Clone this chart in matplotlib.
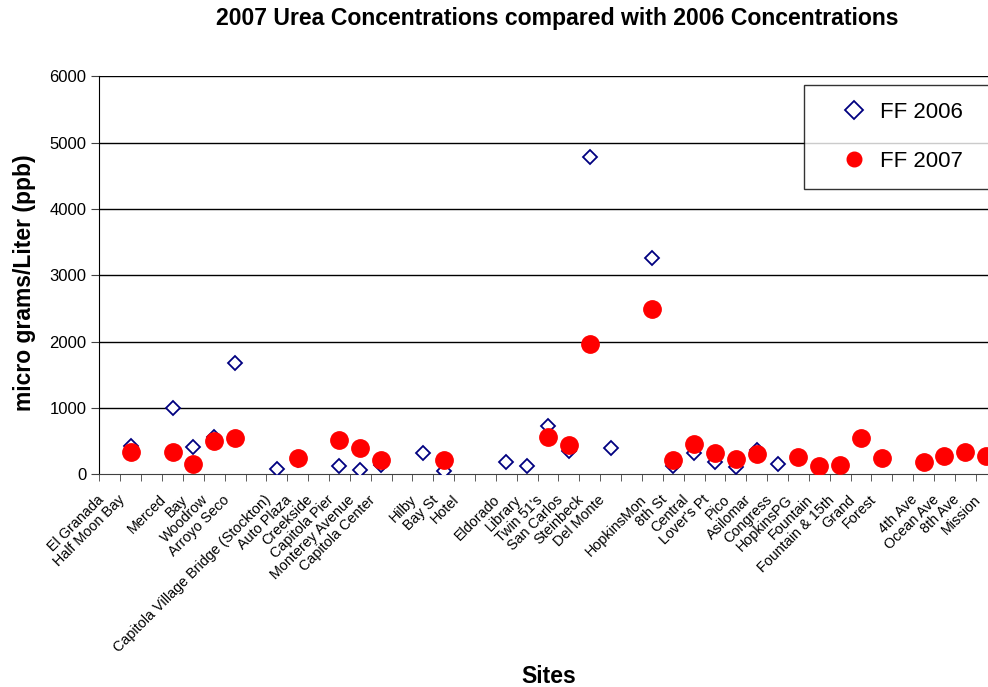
import numpy as np
import matplotlib
matplotlib.use('Agg')
import matplotlib.pyplot as plt
import matplotlib.transforms as mtransforms
from matplotlib.lines import Line2D

plt.rcParams['font.family'] = ['Liberation Sans', 'DejaVu Sans']

nan = np.nan

# site names along the x axis, blank strings are the empty slots in the sheet
sites = ['El Granada', 'Half Moon Bay', '', 'Merced', 'Bay', 'Woodrow', 'Arroyo Seco', '',
         'Capitola Village Bridge (Stockton)', 'Auto Plaza', 'Creekside', 'Capitola Pier',
         'Monterey Avenue', 'Capitola Center', '', 'Hilby', 'Bay St', 'Hotel', '',
         'Eldorado', 'Library', "Twin 51's", 'San Carlos', 'Steinbeck', 'Del Monte', '',
         'HopkinsMon', '8th St', 'Central', "Lover's Pt", 'Pico', 'Asilomar', 'Congress',
         'HopkinsPG', 'Fountain', 'Fountain & 15th', 'Grand', 'Forest', '',
         '4th Ave', 'Ocean Ave', '8th Ave', 'Mission']

ff_2006 = [nan, 430, nan, 1000, 417, 560, 1680, nan,
           80, 220, nan, 125, 65, 140, nan, 326, 55, nan, nan,
           190, 125, 730, 355, 4780, 397, nan,
           3260, 125, 326, 190, 115, 366, 150,
           nan, nan, nan, nan, nan, nan, nan, nan, nan, nan]

ff_2007 = [nan, 341, nan, 341, 155, 507, 543, nan,
           nan, 246, nan, 513, 397, 211, nan, nan, 211, nan, nan,
           nan, nan, 558, 442, 1970, nan, nan,
           2490, 211, 457, 315, 235, 306, nan,
           266, 130, 136, 541, 241, nan, 190, 276, 341, 276]

yticks = [0, 1000, 2000, 3000, 4000, 5000, 6000]

fig = plt.figure(figsize=(9.88, 6.87), dpi=100)
# the original chart runs a little past the right edge of the image
ax = fig.add_axes([0.1007, 0.3096, 0.908, 0.5793])

x = np.arange(len(sites))
ax.plot(x, ff_2006, linestyle='none', marker='D', markersize=7.5,
        markerfacecolor='white', markeredgecolor='#000080', markeredgewidth=1.3,
        zorder=3)
ax.plot(x, ff_2007, linestyle='none', marker='o', markersize=12.5,
        markerfacecolor='#ff0000', markeredgecolor='#ff0000', zorder=4)

ax.set_xlim(-0.5, len(sites) - 0.5)
ax.set_ylim(0, 6000)
ax.set_yticks(yticks)
ax.set_yticklabels([str(v) for v in yticks], fontsize=12)
for v in yticks[1:]:
    ax.axhline(v, color='black', linewidth=1, zorder=1)

# labels sit at the category centres, tick marks at the boundaries
ax.set_xticks(x)
ax.set_xticklabels(sites, rotation=45, ha='right', va='top',
                   rotation_mode='anchor', fontsize=10.4)
ax.tick_params(axis='x', which='major', length=0, pad=6)
# excel puts the rotated labels a bit further down and left than matplotlib does
shift = mtransforms.ScaledTranslation(-13 / 100, -10 / 100, fig.dpi_scale_trans)
for lbl in ax.get_xticklabels():
    lbl.set_transform(lbl.get_transform() + shift)
ax.set_xticks(np.arange(len(sites) + 1) - 0.5, minor=True)
ax.tick_params(axis='x', which='minor', length=5, color='#404040')
ax.tick_params(axis='y', length=6, color='#404040')

ax.spines['top'].set_visible(False)
ax.spines['right'].set_visible(False)
ax.spines['bottom'].set_color('#404040')
ax.spines['left'].set_color('black')

fig.text(0.564, 0.973, '2007 Urea Concentrations compared with 2006 Concentrations',
         ha='center', va='center', fontsize=16.6, fontweight='bold')
fig.text(0.0243, 0.588, 'micro grams/Liter (ppb)', rotation=90, ha='center', va='center',
         fontsize=16.5, fontweight='bold')
fig.text(0.555, 0.015, 'Sites', ha='center', va='center', fontsize=16.5, fontweight='bold')

# legend markers are drawn a bit differently sized than the plot markers
handles = [
    Line2D([], [], linestyle='none', marker='D', markersize=9, markerfacecolor='white',
           markeredgecolor='#000080', markeredgewidth=1.3),
    Line2D([], [], linestyle='none', marker='o', markersize=10.5,
           markerfacecolor='#ff0000', markeredgecolor='#ff0000'),
]
leg = fig.legend(handles, ['FF 2006', 'FF 2007'], loc='upper left',
                 bbox_to_anchor=(0.8138, 0.6, 0.3, 0.2763), mode='expand', fontsize=16,
                 frameon=True, fancybox=False, edgecolor='black', labelspacing=1.28,
                 borderpad=0.75, handlelength=3.0, handletextpad=-0.33, borderaxespad=0)
leg.get_frame().set_linewidth(1)

plt.savefig('out.png', dpi=100)
plt.close()
